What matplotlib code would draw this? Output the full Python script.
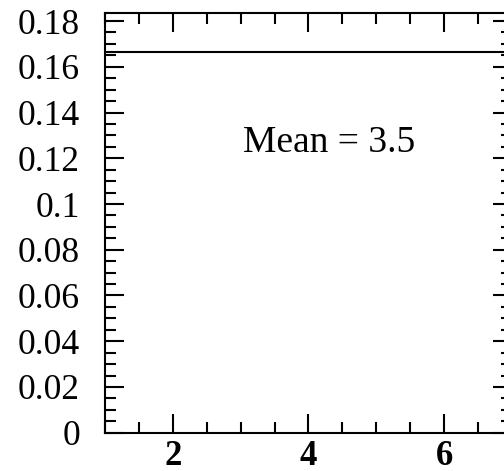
import matplotlib.pyplot as plt
import numpy as np
from matplotlib.ticker import MultipleLocator, FuncFormatter

# fair die: uniform distribution over the faces
faces = [1, 2, 3, 4, 5, 6]
probs = [1/6, 1/6, 1/6, 1/6, 1/6, 1/6]
mean_value = np.sum(np.array(faces) * np.array(probs))
x_ticks = [2, 4, 6]
y_ticks = [0, 0.02, 0.04, 0.06, 0.08, 0.1, 0.12, 0.14, 0.16, 0.18]

plt.rcParams['font.family'] = ['Liberation Serif', 'DejaVu Serif']

fig = plt.figure(figsize=(5.04, 4.71), dpi=100)
ax = fig.add_axes([0.2083, 0.0813, 0.8075, 0.891])

ax.axhline(probs[0], color='black', linewidth=1.5)

ax.set_xlim(1, 7)
ax.set_ylim(0, 0.1835)
ax.set_xticks(x_ticks)
ax.set_yticks(y_ticks)
ax.xaxis.set_minor_locator(MultipleLocator(0.5))
ax.yaxis.set_minor_locator(MultipleLocator(0.005))

def fmt(v, pos):
    s = ('%.2f' % v).rstrip('0').rstrip('.')
    return s
ax.yaxis.set_major_formatter(FuncFormatter(fmt))

ax.tick_params(which='both', direction='in', top=True, right=True, width=1.5, color='black')
ax.tick_params(which='major', length=14)
ax.tick_params(which='minor', length=8)
ax.tick_params(axis='y', which='major', labelsize=25.5, pad=18)
ax.tick_params(axis='x', which='major', labelsize=25, pad=5)
for lab in ax.get_xticklabels():
    lab.set_fontweight('bold')

for sp in ax.spines.values():
    sp.set_linewidth(1.5)

ax.text(4.3, 0.127, 'Mean = %.1f' % mean_value, fontsize=27, ha='center', va='center')

fig.savefig('out.png', dpi=100)
